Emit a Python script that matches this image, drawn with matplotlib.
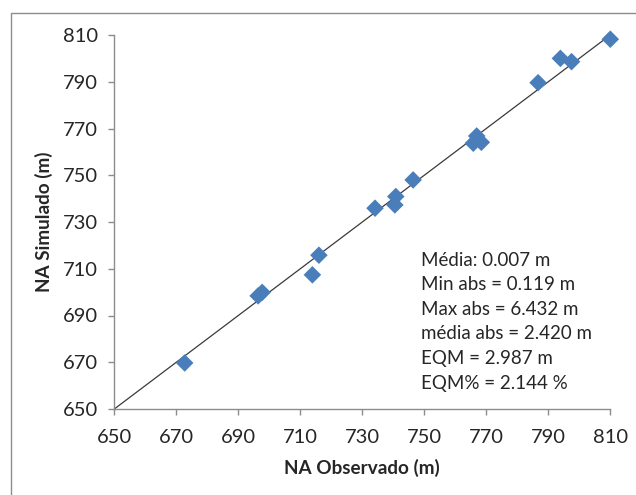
import matplotlib
matplotlib.use("Agg")
import matplotlib.pyplot as plt
from matplotlib.patches import Rectangle

plt.rcParams['font.family'] = ['Lato', 'DejaVu Sans']

observed = [672.7, 696.4, 697.7, 713.9, 716.0, 734.1, 740.5, 740.8, 746.4,
            765.8, 766.9, 768.4, 786.7, 793.9, 797.5, 810.0]
simulated = [669.7, 698.4, 699.9, 707.4, 715.8, 735.9, 737.3, 740.9, 748.0,
             763.7, 766.8, 764.1, 789.6, 800.0, 798.6, 808.2]
ticks = [650, 670, 690, 710, 730, 750, 770, 790, 810]
stats_lines = ["Média: 0.007 m", "Min abs = 0.119 m", "Max abs = 6.432 m",
               "média abs = 2.420 m", "EQM = 2.987 m", "EQM% = 2.144 %"]

W, H = 636, 495
fig = plt.figure(figsize=(W / 100, H / 100), dpi=100)
fig.patch.set_facecolor('white')

# chart-area border (top and left visible, cropped at right/bottom)
fig.patches.append(Rectangle((11 / W, -0.1), 1.2, (H - 13) / H + 0.1,
                             transform=fig.transFigure, fill=False,
                             edgecolor='#8c8c8c', linewidth=1.0))

left, right, top, bottom = 114.3, 610.3, 35, 409
ax = fig.add_axes([left / W, (H - bottom) / H, (right - left) / W, (bottom - top) / H])

ax.plot([650, 810], [650, 810], color='#3a3a3a', linewidth=0.9, zorder=2)
ax.scatter(observed, simulated, marker='D', s=80, color='#4a7ebb',
           edgecolors='none', zorder=3, clip_on=False)

ax.set_xlim(650, 810)
ax.set_ylim(650, 810)
ax.set_xticks(ticks)
ax.set_yticks(ticks)
ax.set_xticklabels([str(t) for t in ticks])
ax.set_yticklabels([str(t) for t in ticks])

for s in ['top', 'right']:
    ax.spines[s].set_visible(False)
for s in ['left', 'bottom']:
    ax.spines[s].set_color('#8c8c8c')
    ax.spines[s].set_linewidth(1.0)
ax.tick_params(axis='both', direction='out', length=4.5, width=1.0,
               color='#8c8c8c', labelsize=14.5, labelcolor='#262626')
ax.tick_params(axis='x', pad=10)
ax.tick_params(axis='y', pad=7.5)

ax.set_xlabel('NA Observado (m)', fontsize=13.6, fontweight='bold', color='#262626', labelpad=9)
ax.set_ylabel('NA Simulado (m)', fontsize=13.6, fontweight='bold', color='#262626', labelpad=6.5)

x0 = (421 - left) / (right - left)
for i, line in enumerate(stats_lines):
    yc = 260 + i * 24.6
    ax.text(x0, (bottom - yc) / (bottom - top), line, transform=ax.transAxes,
            fontsize=13.5, color='#262626', ha='left', va='center')

fig.savefig('out.png', dpi=100)
